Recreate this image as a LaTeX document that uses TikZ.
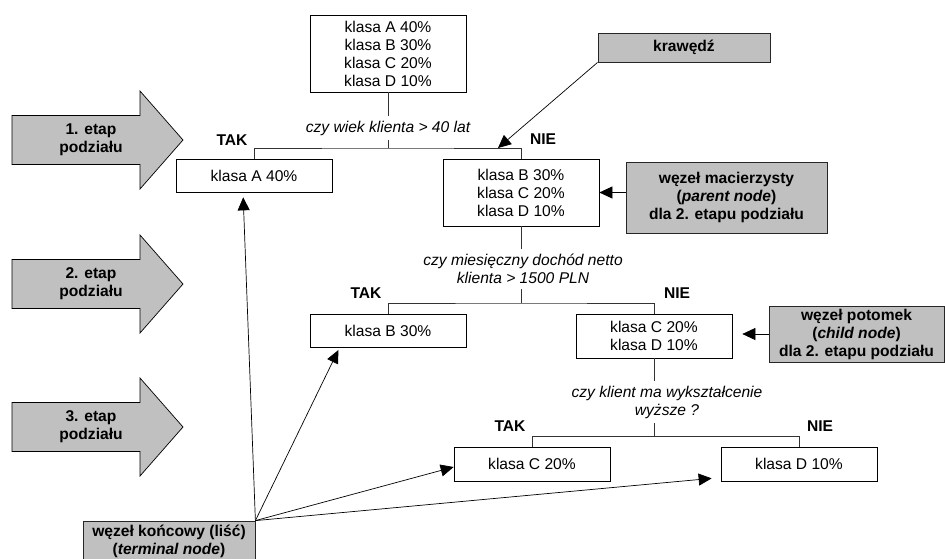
\documentclass[tikz,border=0pt]{standalone}
\usepackage{fontspec}
\setmainfont{Liberation Sans}
\usetikzlibrary{arrows.meta}
\definecolor{notegray}{HTML}{C0C0C0}
\begin{document}
\begin{tikzpicture}[x=1pt, y=-1pt, >={Triangle[length=13pt,width=12pt]},
        box/.style={draw, fill=white, line width=0.7pt, inner sep=0pt, align=center, font=\fontsize{15.6}{18}\selectfont},
        note/.style={draw=black!85, fill=notegray, line width=0.8pt, inner sep=0pt, align=center, font=\fontsize{15.6}{18}\selectfont\bfseries},
        answer/.style={font=\fontsize{15.6}{18}\selectfont\bfseries},
        question/.style={align=center, inner xsep=2pt, inner ysep=5pt, font=\fontsize{15.6}{18}\selectfont\itshape},
        edge/.style={line width=0.6pt, draw=black!80},
        pointer/.style={->, line width=0.7pt}]
    \useasboundingbox (0,0) rectangle (945,558);
    \foreach \y/\n in {140/1, 284/2, 427/3} {
        \draw[fill=notegray, line width=0.7pt] (12,\y-24.5) -- (140,\y-24.5) -- (140,\y-49) -- (183,\y) -- (140,\y+49) -- (140,\y+24.5) -- (12,\y+24.5) -- cycle;
        \node[align=center, font=\fontsize{15.6}{18}\selectfont\bfseries] (etap\n) at (91,\y) {\n. etap\\podziału};
    }
    \node[box, minimum width=156, minimum height=77] (root) at (388,53.5) {klasa A 40\%\\klasa B 30\%\\klasa C 20\%\\klasa D 10\%};
    \node[question] (q1) at (388,128) {czy wiek klienta > 40 lat};
    \node[box, minimum width=156, minimum height=33] (leafA) at (254,175.5) {klasa A 40\%};
    \node[box, minimum width=156, minimum height=67] (mid1) at (521,192.5) {klasa B 30\%\\klasa C 20\%\\klasa D 10\%};
    \node[question] (q2) at (523,269) {czy miesięczny dochód netto\\klienta > 1500 PLN};
    \node[box, minimum width=156, minimum height=33] (leafB) at (388,330.5) {klasa B 30\%};
    \node[box, minimum width=156, minimum height=44] (cd) at (654,336) {klasa C 20\%\\klasa D 10\%};
    \node[question] (q3) at (667,402) {czy klient ma wykształcenie\\wyższe ?};
    \node[box, minimum width=156, minimum height=34] (leafC) at (532,464) {klasa C 20\%};
    \node[box, minimum width=156, minimum height=34] (leafD) at (799,464) {klasa D 10\%};
    \node[answer] (tak1) at (232,140) {TAK};
    \node[answer] (nie1) at (543,139) {NIE};
    \node[answer] (tak2) at (366,293) {TAK};
    \node[answer] (nie2) at (677,293) {NIE};
    \node[answer] (tak3) at (510,426) {TAK};
    \node[answer] (nie3) at (820,426) {NIE};
    \coordinate (s1) at (388,148);
    \coordinate (s2) at (521,303);
    \coordinate (s3) at (654,436);
    \draw[edge] (root.south) -- (q1.north);
    \draw[edge] (q1.south) -- (s1);
    \draw[edge] (leafA.north) |- (s1) -| (mid1.north);
    \draw[edge] (mid1.south) -- (mid1.south |- q2.north);
    \draw[edge] (mid1.south |- q2.south) -- (s2);
    \draw[edge] (leafB.north) |- (s2) -| (cd.north);
    \draw[edge] (cd.south) -- (cd.south |- q3.north);
    \draw[edge] (cd.south |- q3.south) -- (s3);
    \draw[edge] (leafC.north) |- (s3) -| (leafD.north);
    \node[note, minimum width=172, minimum height=29] (kraw) at (684,47.5) {krawędź};
    \node[note, minimum width=201, minimum height=71] (parent) at (726.5,197.5) {węzeł macierzysty\\(\textit{parent node})\\dla 2. etapu podziału};
    \node[note, minimum width=175, minimum height=56] (child) at (856.5,334) {węzeł potomek\\(\textit{child node})\\dla 2. etapu podziału};
    \node[note, minimum width=172, minimum height=40] (term) at (169,541) {węzeł końcowy (liść)\\(\textit{terminal node})};
    \coordinate (e1) at (498,148);
    \draw[pointer] (kraw.south west) -- (e1);
    \draw[pointer] (parent.west |- mid1.east) -- (mid1.east);
    \draw[pointer, shorten >=10pt] (child.west) -- (child.west -| cd.east);
    \draw[pointer, shorten >=5pt] (term.north east) -- ([xshift=-11pt]leafA.south);
    \draw[pointer, shorten >=3pt] (term.north east) -- ([xshift=30pt]leafB.south west);
    \draw[pointer] (term.north east) -- ([yshift=-3pt]leafC.west);
    \draw[pointer] (term.north east) -- ([xshift=-9pt,yshift=3pt]leafD.south west);
\end{tikzpicture}
\end{document}
